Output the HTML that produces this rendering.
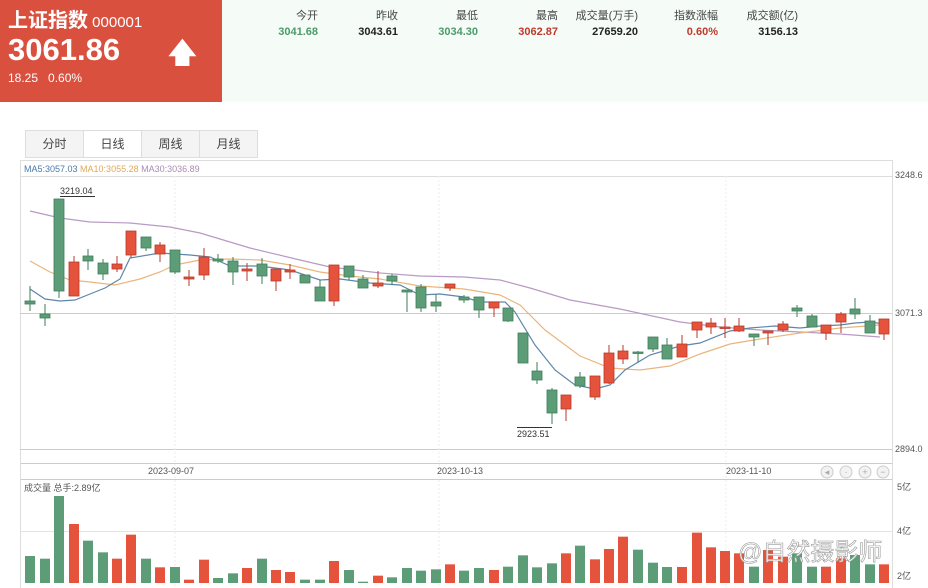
<!DOCTYPE html>
<html><head><meta charset="utf-8"><style>
body{margin:0;width:928px;height:588px;overflow:hidden;background:#fff;font-family:"Liberation Sans","Noto Sans CJK SC",sans-serif;position:relative}
.hd{position:absolute;left:0;top:0;width:222px;height:102px;background:#d9503f;color:#fff}
.rt{position:absolute;left:222px;top:0;width:706px;height:102px;background:#f5fcf7}
.q{position:absolute;font-size:11px;text-align:right;width:80px}
.tabs{position:absolute;left:25px;top:130px;height:26px;border:1px solid #ddd;display:flex;background:#f4f4f4}
.tabs div{width:57px;text-align:center;line-height:26px;font-size:12px;color:#444;border-right:1px solid #ddd}
.tabs div.on{background:#fff}
</style></head><body>
<div class="hd">
<div style="position:absolute;left:8px;top:4px;font-size:20px;font-weight:bold">上证指数<span style="font-size:15px;font-weight:normal"> 000001</span></div>
<div style="position:absolute;left:8px;top:32px;font-size:31px;font-weight:bold">3061.86</div>
<div style="position:absolute;left:168px;top:32px;font-size:28px;font-weight:bold">🡅</div>
<div style="position:absolute;left:8px;top:71px;font-size:12px">18.25&nbsp;&nbsp;&nbsp;0.60%</div>
</div>
<div class="rt"></div>
<div id="q"></div>
<div class="tabs"><div>分时</div><div class="on">日线</div><div>周线</div><div style="border:none">月线</div></div>
<svg id="s" width="928" height="588" style="position:absolute;left:0;top:0"></svg>
<script>
var q=[["今开","3041.68","#4c9a6a",238],["昨收","3043.61","#222",318],["最低","3034.30","#4c9a6a",398],["最高","3062.87","#c0392b",478],["成交量(万手)","27659.20","#222",558],["指数涨幅","0.60%","#c0392b",638],["成交额(亿)","3156.13","#222",718]];
var h="";q.forEach(function(a){h+='<div class="q" style="left:'+a[3]+'px;top:7px;color:#444">'+a[0]+'</div><div class="q" style="left:'+a[3]+'px;top:26px;color:'+a[2]+';font-weight:bold">'+a[1]+'</div>';});
document.getElementById("q").innerHTML=h;
var G="#5c9d78",R="#e5533c";
var c=[[30,'g',301,304,286,311],[45,'g',314,318,304,326],[59,'g',199,291,199,298],[74,'r',262,296,256,296],[88,'g',256,261,249,270],[103,'g',263,274,259,280],[117,'r',264,269,256,272],[131,'r',231,255,231,258],[146,'g',237,248,237,251],[160,'r',245,254,242,262],[175,'g',250,272,250,274],[189,'r',277,279,270,286],[204,'r',257,275,248,280],[218,'g',259,261,254,263],[233,'g',261,272,257,285],[247,'r',269,271,263,281],[262,'g',264,276,258,284],[276,'r',269,281,269,291],[290,'r',270,272,264,279],[305,'g',275,283,275,283],[320,'g',287,301,280,301],[334,'r',265,301,265,306],[349,'g',266,277,266,280],[363,'g',279,288,275,288],[378,'r',283,286,271,288],[392,'g',276,281,274,285],[407,'g',290,292,290,312],[421,'g',287,308,284,312],[436,'g',302,306,294,312],[450,'r',284,288,284,291],[464,'g',297,300,295,303],[479,'g',297,310,297,318],[494,'r',302,308,302,317],[508,'g',308,321,308,322],[523,'g',333,363,333,363],[537,'g',371,380,362,384],[552,'g',390,413,388,424],[566,'r',395,409,395,421],[580,'g',377,386,372,388],[595,'r',376,397,376,400],[609,'r',353,383,345,384],[623,'r',351,359,345,364],[638,'g',352,353,351,362],[653,'g',337,349,337,352],[667,'g',345,359,338,359],[682,'r',344,357,335,357],[697,'r',322,330,322,338],[711,'r',323,327,318,334],[725,'r',327,328,318,338],[739,'r',326,331,318,332],[754,'g',334,337,334,346],[768,'r',331,333,331,345],[783,'r',324,330,321,332],[797,'g',308,311,305,317],[812,'g',316,327,314,327],[826,'r',325,333,325,340],[841,'r',314,322,312,333],[855,'g',309,314,298,319],[870,'g',321,333,315,333],[884,'r',319,334,319,340]];
var v=[348,356,168,252,302,337,356,284,356,382,381,419,359,414,400,384,356,390,396,419,419,363,390,425,407,412,384,392,388,373,392,384,390,380,346,382,370,340,317,358,327,290,329,368,381,381,278,322,333,340,380,330,350,340,380,380,355,345,373,373];
var s='';
// frames
s+='<rect x="20.5" y="160.5" width="872" height="303" fill="none" stroke="#ddd"/>';
s+='<line x1="20" y1="176.5" x2="892" y2="176.5" stroke="#ddd"/>';
s+='<line x1="20" y1="313.5" x2="892" y2="313.5" stroke="#ccc"/>';
s+='<line x1="20" y1="449.5" x2="892" y2="449.5" stroke="#ccc"/>';
s+='<line x1="20" y1="463.5" x2="892" y2="463.5" stroke="#ccc"/>';
s+='<line x1="20" y1="479.5" x2="892" y2="479.5" stroke="#ccc"/>';
s+='<line x1="892.5" y1="160" x2="892.5" y2="588" stroke="#ddd"/>';
s+='<line x1="20.5" y1="463" x2="20.5" y2="588" stroke="#ddd"/>';
s+='<line x1="20" y1="531.5" x2="892" y2="531.5" stroke="#e4e4e4"/>';
[175,439,726].forEach(function(x){s+='<line x1="'+x+'" y1="176" x2="'+x+'" y2="588" stroke="#eee" stroke-dasharray="2,2"/>';});
s+='<text x="24" y="172" font-size="9" fill="#4a7aa8">MA5:3057.03 <tspan fill="#e0a95a">MA10:3055.28</tspan> <tspan fill="#a98bb5">MA30:3036.89</tspan></text>';
s+='<g font-size="9" fill="#555"><text x="895" y="178">3248.6</text><text x="895" y="316">3071.3</text><text x="895" y="452">2894.0</text><text x="897" y="490">5亿</text><text x="897" y="534">4亿</text><text x="897" y="579">2亿</text>';
s+='<text x="148" y="474">2023-09-07</text><text x="437" y="474">2023-10-13</text><text x="726" y="474">2023-11-10</text><text x="24" y="491">成交量 总手:2.89亿</text></g>';
[827,846,865,883].forEach(function(x,i){s+='<circle cx="'+x+'" cy="472" r="6" fill="#f2f2f2" stroke="#ccc"/><text x="'+x+'" y="475" font-size="9" text-anchor="middle" fill="#aaa">'+["◂","·","+","−"][i]+'</text>';});
function pl(p,col){return '<polyline fill="none" stroke="'+col+'" stroke-width="1.2" points="'+p+'"/>';}
s+=pl("30,211 60,218 90,222 130,223 170,227 200,233 250,248 300,260 330,267 380,273 420,276 464,277 500,280 530,288 570,300 620,309 680,322 720,327 760,330 800,332 840,334 880,337","#b89ac4");
s+=pl("30,261 50,272 70,280 90,282 115,285 140,279 160,272 175,265 200,260 230,259 260,260 290,265 320,272 350,276 380,279 420,286 450,288 464,289 500,295 520,305 545,330 580,356 610,368 640,370 670,366 700,354 730,344 760,339 800,333 840,328 880,325","#eab57d");
s+=pl("30,289 45,299 60,301 75,300 90,294 105,288 120,279 130,258 160,253 190,255 210,257 230,266 260,266 290,270 320,280 340,279 370,283 400,285 420,295 440,294 464,297 480,302 505,302 515,312 535,345 555,370 575,385 595,389 610,385 625,370 650,355 680,346 700,343 730,331 750,328 775,326 800,328 820,326 840,325 855,323 870,322 884,324","#5d86a8");
c.forEach(function(d,i){var col=d[1]=='g'?G:R,sk=d[1]=='g'?'#3e7d58':'#b73a28';
s+='<line x1="'+d[0]+'" y1="'+d[4]+'" x2="'+d[0]+'" y2="'+d[5]+'" stroke="'+sk+'"/>';
s+='<rect x="'+(d[0]-5)+'" y="'+d[2]+'" width="10" height="'+Math.max(1.5,d[3]-d[2])+'" fill="'+col+'" stroke="'+sk+'" stroke-width="0.8"/>';
var t=440+v[i]/3;s+='<rect x="'+(d[0]-5)+'" y="'+t+'" width="10" height="'+(583-t)+'" fill="'+col+'"/>';});
s+='<line x1="60" y1="196.5" x2="95" y2="196.5" stroke="#333"/><text x="60" y="194" font-size="9" fill="#333">3219.04</text>';
s+='<line x1="517" y1="427.5" x2="552" y2="427.5" stroke="#333"/><text x="517" y="437" font-size="9" fill="#333">2923.51</text>';
s+='<text x="738" y="560" font-size="24" fill="#fff" fill-opacity="0.85" stroke="#999" stroke-width="0.6">@自然摄影师</text>';
document.getElementById("s").innerHTML=s;
</script>
</body></html>
